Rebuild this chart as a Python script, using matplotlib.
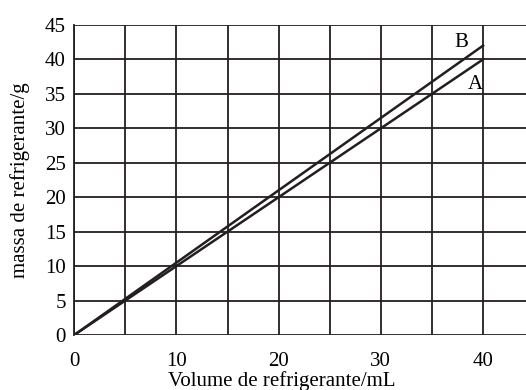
import matplotlib.pyplot as plt

volume = [0, 40]
massa_a = [0, 40]
massa_b = [0, 42]
xticks = [0, 10, 20, 30, 40]
yticks = [0, 5, 10, 15, 20, 25, 30, 35, 40, 45]

plt.rcParams["font.family"] = ["Liberation Serif", "DejaVu Serif"]

fig = plt.figure(figsize=(5.26, 3.9), dpi=100)
ax = fig.add_axes([0.141, 0.141, 0.859, 0.795])

for x in range(0, 45, 5):
    ax.axvline(x, color="#231f20", lw=1.3, zorder=1)
for y in yticks:
    ax.axhline(y, color="#231f20", lw=1.3, zorder=1)

ax.plot(volume, massa_a, color="#231f20", lw=1.8, zorder=2)
ax.plot(volume, massa_b, color="#231f20", lw=1.8, zorder=2)
ax.text(37.9, 42.4, "B", fontsize=15, ha="center", va="center")
ax.text(39.2, 36.4, "A", fontsize=15, ha="center", va="center")

ax.set_xlim(0, 44.2)
ax.set_ylim(0, 45)
ax.set_xticks(xticks)
ax.set_yticks(yticks)
ax.tick_params(axis="x", length=0, labelsize=15, pad=12)
ax.tick_params(axis="y", length=0, labelsize=15, pad=6)
for s in ax.spines.values():
    s.set_visible(False)
ax.spines["left"].set_visible(True)
ax.spines["left"].set_color("#231f20")
ax.spines["left"].set_linewidth(1.3)

ax.set_xlabel("Volume de refrigerante/mL", fontsize=15)
ax.xaxis.set_label_coords(0.46, -0.115)
ax.set_ylabel("massa de refrigerante/g", fontsize=15, labelpad=11)

fig.savefig("out.png", dpi=100)
